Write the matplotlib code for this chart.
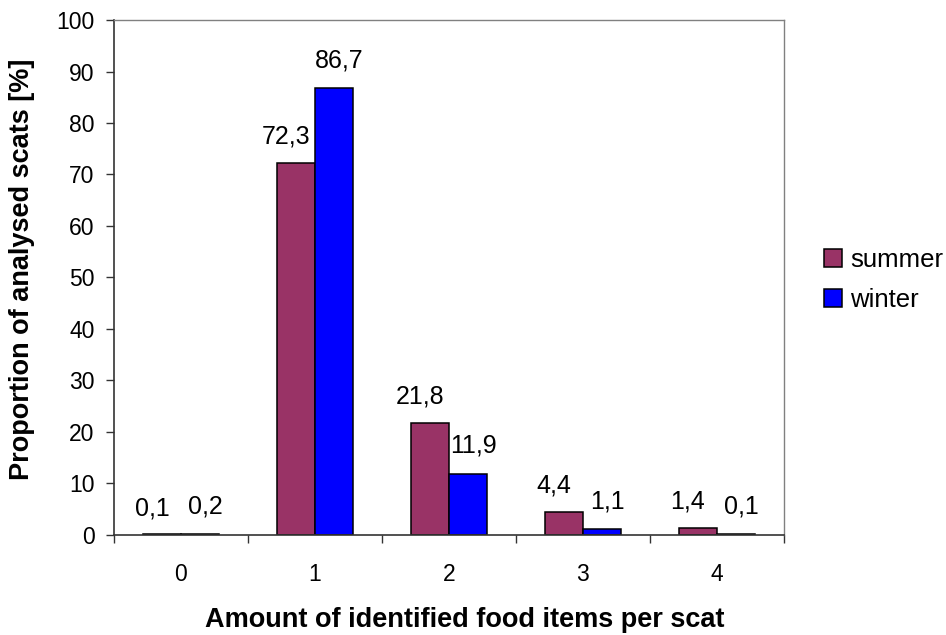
import numpy as np
import matplotlib.pyplot as plt

plt.rcParams['font.family'] = ['Liberation Sans', 'DejaVu Sans']

categories = ['0', '1', '2', '3', '4']
summer = [0.1, 72.3, 21.8, 4.4, 1.4]
winter = [0.2, 86.7, 11.9, 1.1, 0.1]
summer_labels = ['0,1', '72,3', '21,8', '4,4', '1,4']
winter_labels = ['0,2', '86,7', '11,9', '1,1', '0,1']

fig = plt.figure(figsize=(9.46, 6.35), dpi=100)
ax = fig.add_axes([0.1205, 0.1575, 0.708, 0.811])

x = np.arange(len(categories))
w = 0.285
ax.bar(x - w / 2, summer, w, color='#993366', edgecolor='black', linewidth=1.1, label='summer')
ax.bar(x + w / 2, winter, w, color='#0000FF', edgecolor='black', linewidth=1.1, label='winter')

# value labels
for xi, v, s in zip(x, summer, summer_labels):
    ax.annotate(s, (xi - w / 2, v), xytext=(-7, 14), textcoords='offset points',
                ha='center', va='baseline', fontsize=18)
for xi, v, s in zip(x, winter, winter_labels):
    ax.annotate(s, (xi + w / 2, v), xytext=(4, 15), textcoords='offset points',
                ha='center', va='baseline', fontsize=18)

ax.set_xlim(-0.5, 4.5)
ax.set_ylim(0, 100)
ax.set_yticks(range(0, 101, 10))
ax.tick_params(axis='y', direction='out', length=6, width=1, labelsize=16.5, pad=8, color='#333333')

# boundary ticks between categories, labels at centres
ax.set_xticks(np.arange(-0.5, 5, 1))
ax.set_xticklabels([])
ax.set_xticks(x, minor=True)
ax.set_xticklabels(categories, minor=True)
ax.tick_params(axis='x', which='major', direction='out', length=6, width=1, color='#333333')
ax.tick_params(axis='x', which='minor', length=0, labelsize=16.5, pad=20)

for side in ['left', 'bottom']:
    ax.spines[side].set_color('#333333')
    ax.spines[side].set_linewidth(1.2)
for side in ['top', 'right']:
    ax.spines[side].set_color('#808080')
    ax.spines[side].set_linewidth(1)

ax.set_ylabel('Proportion of analysed scats [%]', fontsize=19.5, fontweight='bold', va='center')
ax.set_xlabel('Amount of identified food items per scat', fontsize=19.5, fontweight='bold', va='center')
ax.yaxis.set_label_coords(-0.137, 0.515)
ax.xaxis.set_label_coords(0.524, -0.165)

ax.legend(loc='center left', bbox_to_anchor=(1.045, 0.495), frameon=False, fontsize=18.5,
          handlelength=0.7, handleheight=0.7, handletextpad=0.3, labelspacing=0.65,
          borderaxespad=0)

fig.savefig('out.png', dpi=100)
